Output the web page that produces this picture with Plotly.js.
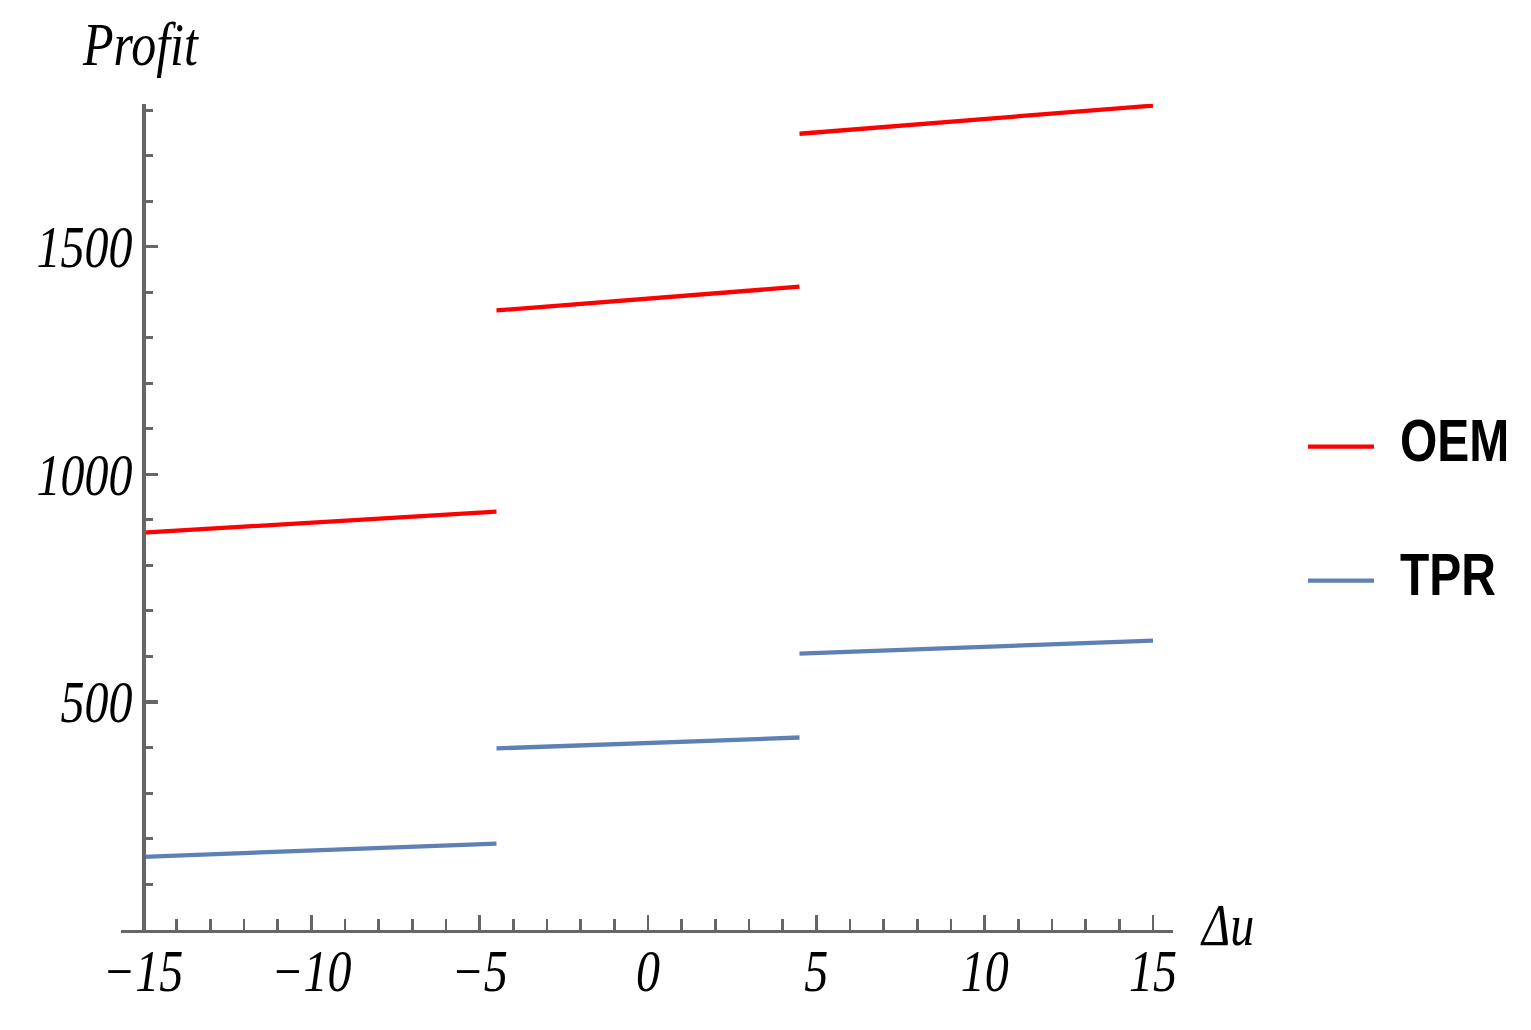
<!DOCTYPE html>
<html>
<head>
<meta charset="utf-8">
<script src="https://cdn.plot.ly/plotly-3.0.1.min.js"></script>
<style>
  html, body { margin: 0; padding: 0; background: #fff; width: 1531px; height: 1030px; }
  #page { width: 1531px; height: 1030px; position: relative; }
  /* the reference picture is stretched vertically, so draw flat and scale up */
  #wrap { position: absolute; left: 0; top: 0; width: 1531px; height: 844px; transform: scaleY(1.22); transform-origin: 0 0; }
  #chart { width: 1531px; height: 844px; }
</style>
</head>
<body>
<div id="page"><div id="wrap"><div id="chart"></div></div></div>
<script>
// three regimes in Δu, each a straight piece
const deltaU = [-15, -4.5, null, -4.5, 4.5, null, 4.5, 15];
const oemProfit = [872, 918, null, 1360, 1412, null, 1748, 1810];
const tprProfit = [160, 189, null, 398, 422, null, 606, 635];

const xTickVals = [-15, -10, -5, 0, 5, 10, 15];
const xTickText = ["\u221215", "\u221210", "\u22125", "0", "5", "10", "15"];
const yTickVals = [500, 1000, 1500];
const yTickText = ["500", "1000", "1500"];

const seriesNames = ["OEM", "TPR"];
const seriesColors = ["#ff0000", "#5e81b5"];

const axisGray = "#666666";
const serifItalic = { family: "Liberation Serif, Times New Roman, serif", size: 48, color: "#000", style: "italic" };

// plot box in (unscaled) page pixels
const box = { left: 121, right: 1173, top: 85, bottom: 762 };
const px = x => (x - box.left) / (box.right - box.left);
const py = y => (box.bottom - y) / (box.bottom - box.top);

const traces = [oemProfit, tprProfit].map((vals, i) => ({
  type: "scatter", mode: "lines", x: deltaU, y: vals, name: seriesNames[i],
  line: { color: seriesColors[i], width: 3.5 }, connectgaps: false, showlegend: false
}));

// hand-drawn legend, Mathematica style: long line sample then label
const legendRows = [366, 476];
const shapes = legendRows.map((y, i) => ({
  type: "line", xref: "paper", yref: "paper",
  x0: px(1308), x1: px(1374), y0: py(y), y1: py(y),
  line: { color: seriesColors[i], width: 3.5 }
}));
const annotations = legendRows.map((y, i) => ({
  xref: "paper", yref: "paper", x: px(1398), y: py(y - 5), xanchor: "left", yanchor: "middle",
  text: "<b>" + seriesNames[i] + "</b>", showarrow: false,
  font: { family: "Liberation Sans, Arial, sans-serif", size: 48, color: "#000" }
}));
annotations.push(
  { xref: "paper", yref: "paper", x: px(140), y: py(36), xanchor: "center", yanchor: "middle",
    text: "Profit", showarrow: false, font: { ...serifItalic, size: 50 } },
  { xref: "paper", yref: "paper", x: px(1198), y: py(758), xanchor: "left", yanchor: "middle",
    text: "\u0394u", showarrow: false, font: serifItalic }
);

const layout = {
  width: 1531, height: 844,
  margin: { l: box.left, r: 1531 - box.right, t: box.top, b: 844 - box.bottom },
  paper_bgcolor: "#fff", plot_bgcolor: "#fff",
  showlegend: false,
  xaxis: {
    range: [-15.653, 15.594], showgrid: false, zeroline: false,
    showline: true, linecolor: axisGray, linewidth: 3,
    tickmode: "array", tickvals: xTickVals, ticktext: xTickText,
    ticks: "inside", ticklen: 12, tickwidth: 2.5, tickcolor: axisGray,
    tickfont: serifItalic, ticklabelstandoff: -10,
    minor: { tick0: -15, dtick: 1, ticks: "inside", ticklen: 9, tickwidth: 2.5, tickcolor: axisGray, showgrid: false }
  },
  yaxis: {
    range: [0, 1814], showgrid: false, zeroline: false,
    anchor: "free", position: px(143),
    showline: true, linecolor: axisGray, linewidth: 3.5,
    tickmode: "array", tickvals: yTickVals, ticktext: yTickText,
    ticks: "inside", ticklen: 12, tickwidth: 2.5, tickcolor: axisGray,
    tickfont: serifItalic,
    minor: { tick0: 0, dtick: 100, ticks: "inside", ticklen: 7, tickwidth: 2.5, tickcolor: axisGray, showgrid: false }
  },
  shapes: shapes,
  annotations: annotations
};

Plotly.newPlot("chart", traces, layout, { displayModeBar: false, staticPlot: true });
</script>
</body>
</html>
